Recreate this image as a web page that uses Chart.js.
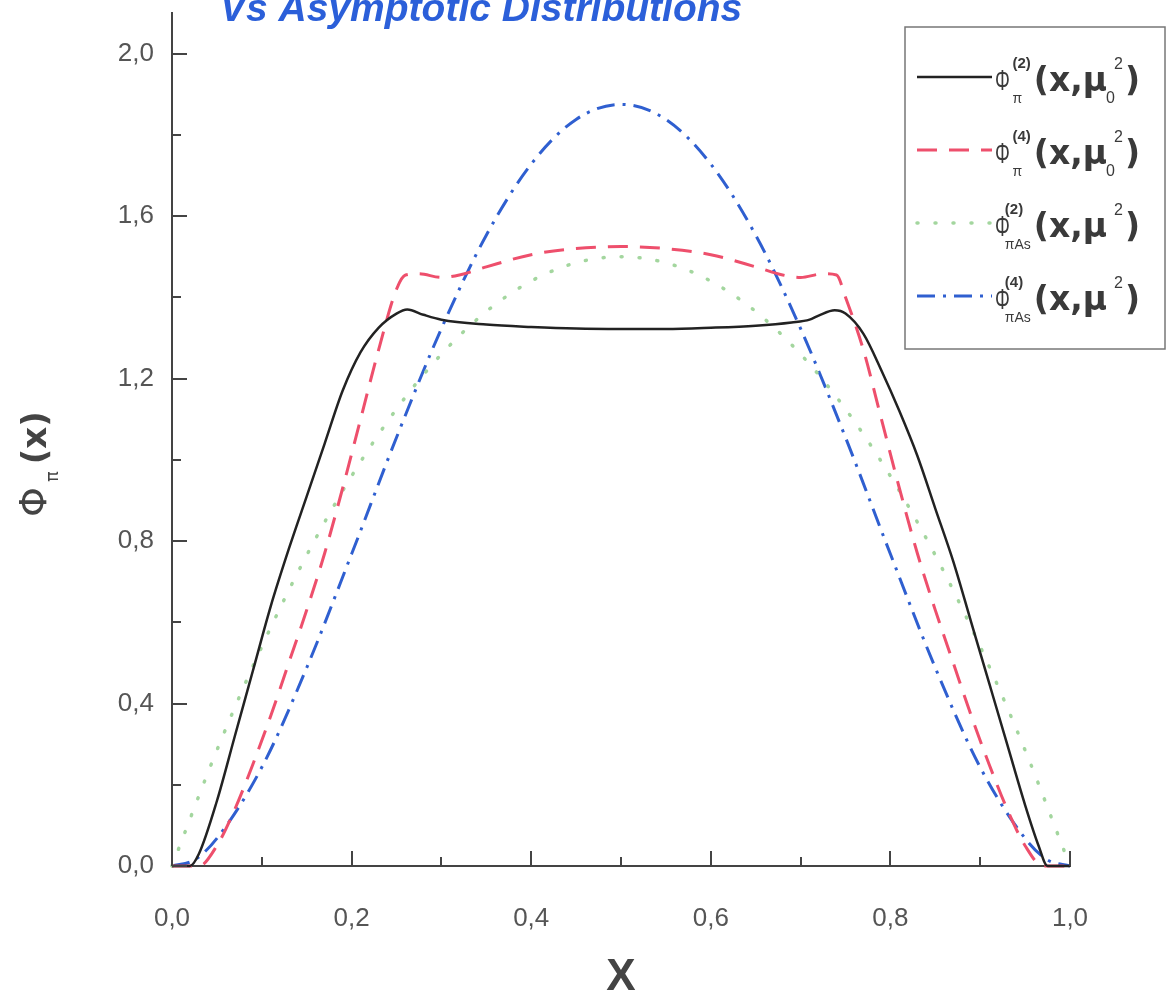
<!DOCTYPE html>
<html>
<head>
<meta charset="utf-8">
<script src="https://cdn.jsdelivr.net/npm/chart.js@4.4.0/dist/chart.umd.min.js"></script>
<style>
    html, body { margin: 0; padding: 0; background: #fff; }
    #wrap { width: 1168px; height: 1000px; }
</style>
</head>
<body>
<div id="wrap"><canvas id="daChart" width="1168" height="1000"></canvas></div>
<script>
// Φπ(2)(x, μ0²) - solid black
const phi2X = [0, 0.02, 0.03, 0.05, 0.07, 0.09, 0.11, 0.13, 0.15, 0.17, 0.19, 0.21, 0.23, 0.25, 0.262, 0.28, 0.30, 0.35, 0.40, 0.45, 0.50,
               0.55, 0.60, 0.65, 0.69, 0.71, 0.72, 0.738, 0.75, 0.77, 0.79, 0.81, 0.83, 0.85, 0.87, 0.89, 0.91, 0.93, 0.95, 0.965, 0.975, 1.0];
const phi2Y = [0, 0, 0.03, 0.16, 0.32, 0.48, 0.64, 0.78, 0.91, 1.04, 1.17, 1.265, 1.325, 1.36, 1.37, 1.357, 1.345, 1.333, 1.327, 1.323, 1.322,
               1.322, 1.325, 1.33, 1.338, 1.345, 1.355, 1.368, 1.36, 1.31, 1.22, 1.12, 1.01, 0.88, 0.75, 0.60, 0.45, 0.30, 0.15, 0.05, 0, 0];

// Φπ(4)(x, μ0²) - red dashes
const phi4X = [0, 0.03, 0.05, 0.07, 0.09, 0.11, 0.13, 0.15, 0.17, 0.19, 0.21, 0.23, 0.25, 0.26, 0.275, 0.30, 0.32, 0.35, 0.40, 0.45, 0.50,
               0.55, 0.60, 0.65, 0.68, 0.70, 0.725, 0.74, 0.75, 0.77, 0.79, 0.81, 0.83, 0.85, 0.87, 0.89, 0.91, 0.93, 0.95, 0.97, 1.0];
const phi4Y = [0, 0, 0.05, 0.14, 0.25, 0.37, 0.50, 0.63, 0.77, 0.93, 1.10, 1.27, 1.42, 1.455, 1.458, 1.449, 1.455, 1.475, 1.505, 1.52, 1.525,
               1.52, 1.505, 1.475, 1.455, 1.449, 1.458, 1.455, 1.40, 1.27, 1.10, 0.93, 0.77, 0.63, 0.50, 0.37, 0.25, 0.14, 0.05, 0, 0];

// ΦπAs(2)(x, μ²) - green dots
const as2X = [0, 0.05, 0.10, 0.15, 0.20, 0.25, 0.30, 0.35, 0.40, 0.45, 0.50, 0.55, 0.60, 0.65, 0.70, 0.75, 0.80, 0.85, 0.90, 0.95, 1.0];
const as2Y = [0, 0.285, 0.54, 0.765, 0.96, 1.125, 1.26, 1.365, 1.44, 1.485, 1.50, 1.485, 1.44, 1.365, 1.26, 1.125, 0.96, 0.765, 0.54, 0.285, 0];

// ΦπAs(4)(x, μ²) - blue dash-dot
const as4X = [0, 0.025, 0.05, 0.10, 0.15, 0.20, 0.25, 0.30, 0.35, 0.40, 0.45, 0.50, 0.55, 0.60, 0.65, 0.70, 0.75, 0.80, 0.85, 0.90, 0.95, 0.975, 1.0];
const as4Y = [0, 0.015, 0.068, 0.243, 0.488, 0.768, 1.055, 1.323, 1.553, 1.728, 1.838, 1.875, 1.838, 1.728, 1.553, 1.323, 1.055, 0.768, 0.488, 0.243, 0.068, 0.015, 0];

const xTickLabels = ['0,0', '0,2', '0,4', '0,6', '0,8', '1,0'];
const yTickLabels = ['0,0', '0,4', '0,8', '1,2', '1,6', '2,0'];

// legend text pieces: Φ_{sub}^{sup}(x,μ_{muSub}^2)
const legendSub = ['π', 'π', 'πAs', 'πAs'];
const legendSup = ['(2)', '(4)', '(2)', '(4)'];
const legendMuSub = ['0', '0', '', ''];

const toPoints = (xs, ys) => xs.map((x, i) => ({ x: x, y: ys[i] }));

const tickLabel = (list) => (v) => {
    const s = Number(v).toFixed(1).replace('.', ',');
    return list.includes(s) ? s : '';
};

const SANS = '"Liberation Sans", Arial, sans-serif';
const DEJAVU = '"DejaVu Sans", sans-serif';

const decorations = {
    id: 'decorations',
    afterDraw(chart) {
        const ctx = chart.ctx;
        const area = chart.chartArea;
        const xs = chart.scales.x, ys = chart.scales.y;

        // inward tick marks
        ctx.save();
        ctx.strokeStyle = '#444';
        ctx.lineWidth = 2;
        xs.ticks.forEach(t => {
            const px = Math.round(xs.getPixelForValue(t.value));
            const len = t.label ? 15 : 9;
            ctx.beginPath();
            ctx.moveTo(px, area.bottom);
            ctx.lineTo(px, area.bottom - len);
            ctx.stroke();
        });
        ys.ticks.forEach(t => {
            const py = Math.round(ys.getPixelForValue(t.value));
            const len = t.label ? 15 : 9;
            ctx.beginPath();
            ctx.moveTo(area.left, py);
            ctx.lineTo(area.left + len, py);
            ctx.stroke();
        });
        ctx.restore();

        // title (second line, runs off the top)
        ctx.save();
        ctx.fillStyle = '#2b5fd9';
        ctx.font = 'italic bold 39px ' + SANS;
        ctx.textBaseline = 'alphabetic';
        ctx.fillText('Vs Asymptotic Distributions', 220, 21);
        ctx.restore();

        // x axis title
        ctx.save();
        ctx.fillStyle = '#444';
        ctx.font = 'bold 44px ' + SANS;
        ctx.textAlign = 'center';
        ctx.fillText('X', (area.left + area.right) / 2, 990);
        ctx.restore();

        // y axis title Φπ(x), rotated
        ctx.save();
        ctx.fillStyle = '#444';
        ctx.translate(46, 517);
        ctx.rotate(-Math.PI / 2);
        ctx.font = '38px ' + DEJAVU;
        ctx.fillText('Φ', 0, 0);
        let yx = ctx.measureText('Φ').width + 5;
        ctx.font = '18px ' + DEJAVU;
        ctx.fillText('π', yx, 12);
        yx += ctx.measureText('π').width + 7;
        ctx.font = 'bold 34px ' + DEJAVU;
        ctx.fillText('(x)', yx, 0);
        ctx.restore();

        drawLegend(chart);
    }
};

function drawLegend(chart) {
    const ctx = chart.ctx;
    const box = { left: 905, top: 27, right: 1165, bottom: 349 };
    ctx.save();
    ctx.fillStyle = '#fff';
    ctx.fillRect(box.left, box.top, box.right - box.left, box.bottom - box.top);
    ctx.strokeStyle = '#777';
    ctx.lineWidth = 1.5;
    ctx.strokeRect(box.left, box.top, box.right - box.left, box.bottom - box.top);

    chart.data.datasets.forEach((ds, i) => {
        const L = 77 + i * 73;

        // line sample
        ctx.save();
        ctx.strokeStyle = ds.borderColor;
        ctx.lineWidth = ds.borderWidth;
        ctx.lineCap = ds.borderCapStyle || 'butt';
        ctx.setLineDash(ds.borderDash || []);
        ctx.beginPath();
        ctx.moveTo(917, L);
        ctx.lineTo(992, L);
        ctx.stroke();
        ctx.restore();

        ctx.fillStyle = '#3a3a3a';
        ctx.textBaseline = 'alphabetic';

        // Φ, drawn narrow
        ctx.save();
        ctx.translate(995, L + 13);
        ctx.scale(0.62, 1);
        ctx.font = '30px ' + SANS;
        ctx.fillText('Φ', 0, 0);
        ctx.restore();

        // right part "(x,μ" + scripts + ")" ends at a common right edge
        ctx.font = 'bold 33px ' + DEJAVU;
        const headW = ctx.measureText('(x,μ').width;
        const closeW = ctx.measureText(')').width;
        ctx.font = '16px ' + SANS;
        const twoW = ctx.measureText('2').width;
        const rightW = headW + 1 + 8 + twoW + closeW;
        const rx = 1140 - rightW;

        ctx.font = 'bold 33px ' + DEJAVU;
        ctx.fillText('(x,μ', rx, L + 14);
        let cx = rx + headW + 1;
        ctx.font = '16px ' + SANS;
        if (legendMuSub[i]) ctx.fillText(legendMuSub[i], cx - 2, L + 26);
        ctx.fillText('2', cx + 6, L - 8);
        cx += 8 + twoW;
        ctx.font = 'bold 33px ' + DEJAVU;
        ctx.fillText(')', cx, L + 14);

        // Φ scripts, tucked in before "(x"
        ctx.font = 'bold 15px ' + SANS;
        const supW = ctx.measureText(legendSup[i]).width;
        ctx.font = '14px ' + SANS;
        const subW = ctx.measureText(legendSub[i]).width;
        const sx = rx - 3 - Math.max(supW, subW);
        ctx.fillText(legendSub[i], sx, L + 26);
        ctx.font = 'bold 15px ' + SANS;
        ctx.fillText(legendSup[i], sx, L - 9);
    });
    ctx.restore();
}

const ctx = document.getElementById('daChart').getContext('2d');

new Chart(ctx, {
    type: 'line',
    data: {
        datasets: [
            {
                label: 'Φπ(2)(x,μ0²)',
                data: toPoints(phi2X, phi2Y),
                borderColor: '#222222',
                borderWidth: 2.5,
                borderDash: []
            },
            {
                label: 'Φπ(4)(x,μ0²)',
                data: toPoints(phi4X, phi4Y),
                borderColor: '#ee4f6c',
                borderWidth: 3,
                borderDash: [20, 12]
            },
            {
                label: 'ΦπAs(2)(x,μ²)',
                data: toPoints(as2X, as2Y),
                borderColor: '#a3d69e',
                borderWidth: 3.5,
                borderDash: [1, 17],
                borderCapStyle: 'round'
            },
            {
                label: 'ΦπAs(4)(x,μ²)',
                data: toPoints(as4X, as4Y),
                borderColor: '#2f5fd0',
                borderWidth: 3,
                borderDash: [18, 8, 3, 8]
            }
        ]
    },
    options: {
        responsive: false,
        animation: false,
        devicePixelRatio: 1,
        layout: { padding: { top: 13, right: 98, left: 0, bottom: 0 } },
        elements: {
            point: { radius: 0 },
            line: { cubicInterpolationMode: 'monotone', fill: false }
        },
        datasets: { line: { clip: 6 } },
        plugins: {
            legend: { display: false },
            tooltip: { enabled: false },
            title: { display: false }
        },
        scales: {
            x: {
                type: 'linear',
                min: 0,
                max: 1,
                afterFit: (s) => { s.height = 134; s.paddingLeft = 0; s.paddingRight = 0; },
                grid: { display: false },
                border: { display: true, color: '#444', width: 2 },
                ticks: {
                    stepSize: 0.1,
                    autoSkip: false,
                    maxRotation: 0,
                    padding: 29,
                    color: '#555',
                    font: { family: SANS, size: 26 },
                    callback: tickLabel(xTickLabels)
                }
            },
            y: {
                type: 'linear',
                min: 0,
                max: 2.1,
                afterFit: (s) => { s.width = 172; s.paddingTop = 0; s.paddingBottom = 0; },
                afterBuildTicks: (s) => { s.ticks = s.ticks.filter(t => t.value <= 2.0001); },
                grid: { display: false },
                border: { display: true, color: '#444', width: 2 },
                ticks: {
                    stepSize: 0.2,
                    autoSkip: false,
                    padding: 10,
                    color: '#555',
                    font: { family: SANS, size: 26 },
                    callback: tickLabel(yTickLabels)
                }
            }
        }
    },
    plugins: [decorations]
});
</script>
</body>
</html>
